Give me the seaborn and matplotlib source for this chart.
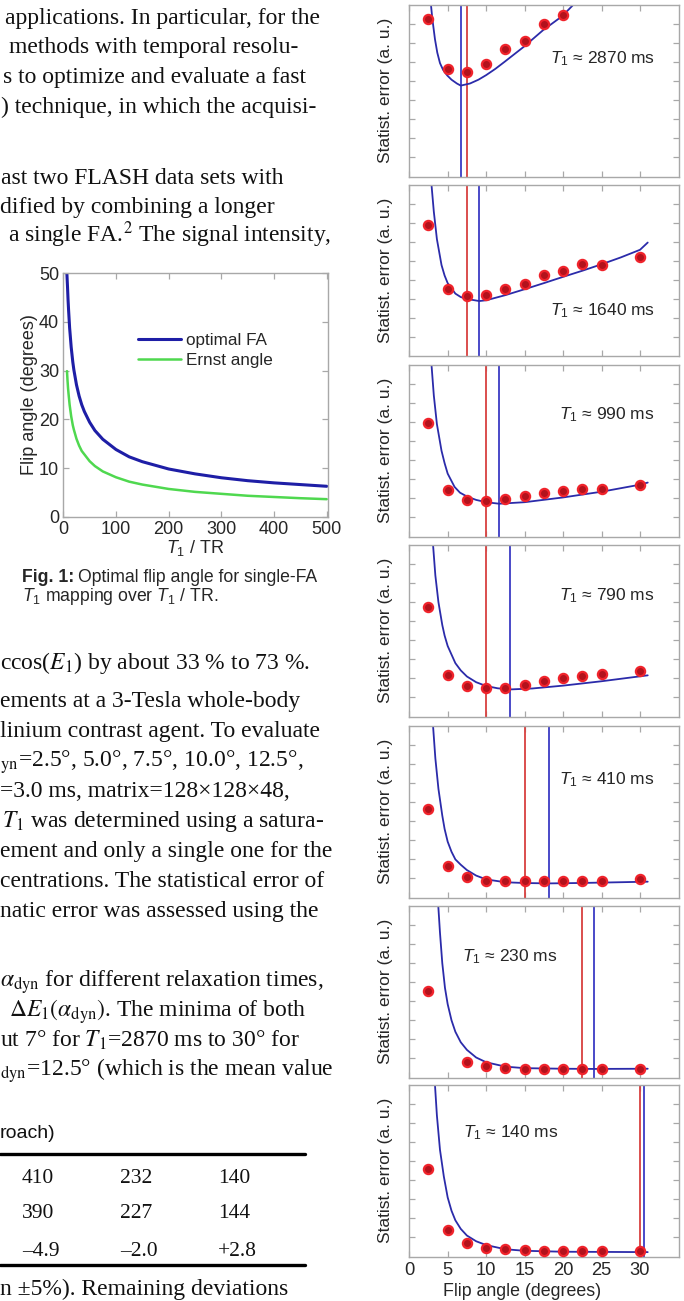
import numpy as np
import pandas as pd
import matplotlib
matplotlib.use("Agg")
import matplotlib.pyplot as plt
from matplotlib.lines import Line2D
import seaborn as sns

# ---------------- data ----------------
# Fig. 1 inset: flip angle vs T1/TR
t1_tr_opt = [6.5, 7, 8, 9, 10, 12, 15, 18, 20, 25, 30, 35, 40, 50, 60, 75, 100, 125, 150, 200, 250, 300, 350, 400, 450, 500]
fa_opt = [50.5, 49.5, 47.2, 44.6, 42.5, 38.8, 34.8, 31.8, 30.2, 27.1, 24.8, 23.0, 21.6, 19.4, 17.7, 15.9, 13.8, 12.3, 11.3, 9.8, 8.8, 8.0, 7.4, 6.95, 6.6, 6.25]
t1_tr_ernst = [7, 8, 9, 10, 12, 15, 18, 20, 25, 30, 35, 40, 50, 60, 75, 100, 125, 150, 200, 250, 300, 350, 400, 450, 500]
fa_ernst = [29.9, 28.0, 26.4, 25.2, 23.0, 20.6, 18.8, 17.9, 16.0, 14.6, 13.5, 12.8, 11.4, 10.4, 9.3, 8.1, 7.2, 6.6, 5.7, 5.1, 4.7, 4.3, 4.05, 3.8, 3.6]

# right column: statistical error vs flip angle
flip_dyn = [2.5, 5, 7.5, 10, 12.5, 15, 17.5, 20, 22.5, 25, 30]
t1_labels = ["2870", "1640", "990", "790", "410", "230", "140"]
err_2870 = [8.26, 5.65, 5.46, 5.93, 6.67, 7.12, 7.98, 8.45, None, None, None]
err_1640 = [6.9, 3.53, 3.18, 3.21, 3.53, 3.79, 4.26, 4.47, 4.86, 4.80, 5.24]
err_990 = [5.95, 2.44, 1.91, 1.86, 1.98, 2.12, 2.26, 2.37, 2.51, 2.51, 2.68]
err_790 = [5.75, 2.16, 1.60, 1.51, 1.51, 1.63, 1.84, 2.02, 2.10, 2.25, 2.39]
err_410 = [4.63, 1.65, 1.07, 0.88, 0.86, 0.84, 0.84, 0.86, 0.86, 0.89, 0.96]
err_230 = [4.54, None, 0.81, 0.60, 0.51, 0.46, 0.46, 0.46, 0.46, 0.46, 0.46]
err_140 = [4.61, 1.37, 0.70, 0.47, 0.37, 0.32, 0.30, 0.30, 0.28, 0.28, 0.28]
measured = [err_2870, err_1640, err_990, err_790, err_410, err_230, err_140]

# model curves
fit_x_2870 = [2.6, 2.83, 3.0, 3.35, 3.65, 4.0, 4.4, 4.95, 5.5, 6.2, 6.7, 7.9, 9.0, 10.0, 11.2, 12.4, 14.9, 17.4, 19.9, 21.3, 22.0]
fit_y_2870 = [9.9, 9.0, 8.3, 7.2, 6.5, 5.95, 5.6, 5.3, 5.08, 4.88, 4.77, 4.88, 5.08, 5.32, 5.65, 6.02, 6.81, 7.68, 8.42, 9.0, 9.3]
fit_x_1640 = [2.7, 2.9, 3.2, 3.6, 4.2, 4.6, 5.0, 6.0, 6.7, 7.5, 9.1, 10, 12.5, 15, 17.5, 20, 22.5, 25, 27.5, 30, 31]
fit_y_1640 = [10, 9.0, 7.6, 6.16, 4.8, 4.25, 3.85, 3.3, 3.12, 3.02, 2.91, 2.95, 3.22, 3.53, 3.85, 4.18, 4.5, 4.84, 5.2, 5.6, 5.98]
fit_x_990 = [2.75, 2.9, 3.2, 3.6, 4.2, 4.6, 5.0, 5.9, 6.6, 7.5, 8.7, 10, 11.7, 15, 20, 25, 30, 31]
fit_y_990 = [10, 9.0, 7.4, 5.9, 4.5, 3.85, 3.3, 2.6, 2.3, 2.1, 1.92, 1.8, 1.72, 1.8, 2.05, 2.35, 2.72, 2.83]
fit_x_790 = [2.95, 3.1, 3.4, 3.8, 4.3, 4.6, 5.0, 6.0, 6.7, 7.5, 8.7, 10, 11.5, 13.1, 16, 20, 25, 31]
fit_y_790 = [10, 9.0, 7.4, 6.0, 4.8, 4.25, 3.7, 2.8, 2.42, 2.1, 1.8, 1.6, 1.48, 1.42, 1.47, 1.62, 1.85, 2.16]
fit_x_410 = [2.95, 3.1, 3.4, 3.8, 4.3, 4.6, 5.0, 5.5, 6.0, 6.7, 7.5, 8.7, 10, 12.5, 15, 18.2, 22, 26, 31]
fit_y_410 = [10, 9.0, 7.3, 5.7, 4.3, 3.6, 2.93, 2.4, 2.0, 1.72, 1.44, 1.15, 0.95, 0.8, 0.76, 0.74, 0.76, 0.79, 0.83]
fit_x_230 = [3.65, 3.78, 4.0, 4.3, 4.65, 5.0, 5.5, 6.0, 6.7, 7.5, 8.7, 10, 12.5, 15, 20, 24, 31]
fit_y_230 = [10, 9.0, 7.6, 6.0, 4.7, 3.85, 3.0, 2.4, 1.85, 1.45, 1.05, 0.8, 0.57, 0.49, 0.46, 0.45, 0.46]
fit_x_140 = [3.2, 3.35, 3.6, 4.0, 4.5, 5.0, 5.5, 6.0, 6.7, 7.5, 8.7, 10, 12.5, 15, 20, 31]
fit_y_140 = [10, 9.0, 7.4, 5.6, 4.2, 3.1, 2.4, 1.9, 1.45, 1.1, 0.8, 0.6, 0.38, 0.3, 0.25, 0.23]
fits_x = [fit_x_2870, fit_x_1640, fit_x_990, fit_x_790, fit_x_410, fit_x_230, fit_x_140]
fits_y = [fit_y_2870, fit_y_1640, fit_y_990, fit_y_790, fit_y_410, fit_y_230, fit_y_140]

opt_measured = [7.5, 7.5, 10, 10, 15, 22.5, 30]   # red lines
opt_model = [6.7, 9.1, 11.7, 13.1, 18.2, 24.0, 30.5]  # blue lines

table_row1 = ["410", "232", "140"]
table_row2 = ["390", "227", "144"]
table_row3 = ["\u20134.9", "\u20132.0", "+2.8"]

# ---------------- style ----------------
sns.set_theme(style="ticks")
plt.rcParams["font.family"] = ["Liberation Sans", "DejaVu Sans"]
plt.rcParams["mathtext.fontset"] = "custom"
plt.rcParams["mathtext.rm"] = "Liberation Sans"
plt.rcParams["mathtext.it"] = "Liberation Sans:italic"
plt.rcParams["mathtext.bf"] = "Liberation Sans:bold"

W, H = 684, 1301
fig = plt.figure(figsize=(W / 100, H / 100), dpi=100)
fig.patch.set_facecolor("white")


def rect(x0, y0, x1, y1):
    return [x0 / W, 1 - y1 / H, (x1 - x0) / W, (y1 - y0) / H]


SPINE = "#a8a8a8"
TXT = "#262626"


def style_axes(ax):
    for s in ax.spines.values():
        s.set_color(SPINE)
        s.set_linewidth(1.0)
    ax.tick_params(direction="in", top=True, right=True, color=SPINE,
                   length=4, width=0.9, labelcolor=TXT)


SERIF = ["Liberation Serif", "DejaVu Serif"]


def body(x, y, s, size=17):
    return fig.text(x / W, 1 - (y + 7) / H, s, fontsize=size, family=SERIF,
                    va="baseline", ha="left", color="#111111", math_fontfamily="stix")


# ---------------- left column text ----------------
upper = [
    ("applications. In particular, for the", 5, 16.7),
    ("methods with temporal resolu-", 9, 45.5),
    ("s to optimize and evaluate a fast", 3, 76.5),
    (") technique, in which the acquisi-", 1, 106.5),
    ("ast two FLASH data sets with", 1, 176.5),
    ("dified by combining a longer", 0, 205.5),
    ("a single FA.$^{2}$ The signal intensity,", 8, 235.5),
]
for s, x, y in upper:
    body(x, y, s)

lower = [
    ("ccos($E_1$) by about 33 % to 73 %.", 0, 661.7),
    ("ements at a 3-Tesla whole-body", 0, 700),
    ("linium contrast agent. To evaluate", 0, 730),
    ("$_{\\mathrm{yn}}$=2.5°, 5.0°, 7.5°, 10.0°, 12.5°,", 0, 760),
    ("=3.0 ms, matrix=128×128×48,", 0, 790),
    ("$T_1$ was determined using a satura-", 2, 820),
    ("ement and only a single one for the", 0, 850),
    ("centrations. The statistical error of", 0, 880),
    ("natic error was assessed using the", 0, 910),
    ("$\\alpha_{\\mathrm{dyn}}$ for different relaxation times,", 0, 980),
    ("$\\Delta E_1(\\alpha_{\\mathrm{dyn}})$. The minima of both", 9, 1010),
    ("ut 7° for $T_1$=2870 ms to 30° for", 0, 1040),
    ("$_{\\mathrm{dyn}}$=12.5° (which is the mean value", 0, 1068.3),
    ("n ±5%). Remaining deviations", 0, 1288.3),
]
for s, x, y in lower:
    body(x, y, s)

# table
fig.text(0, 1 - (1131.7 + 6) / H, "roach)", fontsize=14, color="#111111", va="baseline")
fig.add_artist(Line2D([0, 305 / W], [1 - 1153.5 / H] * 2, color="black", lw=2.4,
                      transform=fig.transFigure))
fig.add_artist(Line2D([0, 305 / W], [1 - 1265 / H] * 2, color="black", lw=2.4,
                      transform=fig.transFigure))
cols_x = [22, 120, 218]
for row, y in zip([table_row1, table_row2, table_row3], [1176.7, 1211.7, 1250]):
    for v, x in zip(row, cols_x):
        body(x, y - 1, v, size=15.5)

# ---------------- Fig. 1 inset ----------------
ax0 = fig.add_axes(rect(63.3, 273.3, 328.3, 516.7))
df_opt = pd.DataFrame({"x": t1_tr_opt, "y": fa_opt})
df_ern = pd.DataFrame({"x": t1_tr_ernst, "y": fa_ernst})
sns.lineplot(data=df_opt, x="x", y="y", ax=ax0, color="#1e1ea6", lw=2.2,
             label="optimal FA", sort=False, estimator=None)
sns.lineplot(data=df_ern, x="x", y="y", ax=ax0, color="#4fd84f", lw=1.8,
             label="Ernst angle", sort=False, estimator=None)
ax0.set_xlim(0, 503)
ax0.set_ylim(0, 50)
ax0.set_xticks([0, 100, 200, 300, 400, 500])
ax0.set_yticks([0, 10, 20, 30, 40, 50])
style_axes(ax0)
ax0.tick_params(labelsize=13, pad=3)
ax0.set_xlabel("$T_1$ / TR", fontsize=13, color=TXT, labelpad=0)
ax0.set_ylabel("Flip angle (degrees)", fontsize=13, color=TXT, labelpad=1)
ax0.legend(loc="upper left", bbox_to_anchor=(138 / W, 1 - 333 / H),
           bbox_transform=fig.transFigure, frameon=False, fontsize=12.3,
           handlelength=2.5, handletextpad=0.3, labelspacing=0.3, borderpad=0,
           borderaxespad=0)
for t in ax0.get_legend().get_texts():
    t.set_color(TXT)

cap_fs = 12.7
bold = fig.text(21.7 / W, 1 - (577 + 5) / H, "Fig. 1:", fontsize=cap_fs, color=TXT,
                va="baseline", weight="bold")
renderer = fig.canvas.get_renderer()
bb = bold.get_window_extent(renderer=renderer)
fig.text((bb.x1 + 4) / W, 1 - (577 + 5) / H, "Optimal flip angle for single-FA",
         fontsize=cap_fs, color=TXT, va="baseline")
fig.text(21.7 / W, 1 - (596 + 5) / H, r"$T_1$ mapping over $T_1$ / TR.",
         fontsize=cap_fs, color=TXT, va="baseline")

# ---------------- right column panels ----------------
tops = [5, 185, 365, 545, 726, 906, 1085]
label_pos = [(31.9, 6.17, "right"), (31.9, 2.38, "right"), (31.9, 6.42, "right"),
             (31.9, 6.33, "right"), (31.9, 6.17, "right"), (6.8, 6.35, "left"),
             (7.0, 6.5, "left")]
for i in range(7):
    top = tops[i]
    ax = fig.add_axes(rect(409.2, top, 678.5, top + 171.5))
    dfm = pd.DataFrame({"x": flip_dyn, "y": [np.nan if v is None else v for v in measured[i]]}).dropna()
    dff = pd.DataFrame({"x": fits_x[i], "y": fits_y[i]})
    ax.axvline(opt_measured[i], color="#d8403f", lw=1.3, zorder=1)
    ax.axvline(opt_model[i], color="#3b3bc4", lw=1.3, zorder=1)
    sns.lineplot(data=dff, x="x", y="y", ax=ax, color="#2b2baa", lw=1.3,
                 sort=False, estimator=None, zorder=2)
    sns.scatterplot(data=dfm, x="x", y="y", ax=ax, s=44, color="#b3121c",
                    edgecolor="#f0232b", linewidth=1.6, zorder=3)
    ax.set_xlim(0, 35)
    ax.set_ylim(0, 9)
    ax.set_xticks([0, 5, 10, 15, 20, 25, 30])
    ax.set_yticks(range(1, 9))
    style_axes(ax)
    ax.set_yticklabels([])
    ax.set_ylabel("Statist. error (a. u.)", fontsize=12.5, color=TXT, labelpad=8)
    lx, ly, ha = label_pos[i]
    ax.text(lx, ly, "$T_1$ \u2248 %s ms" % t1_labels[i], fontsize=12.5, color=TXT,
            ha=ha, va="center")
    if i < 6:
        ax.set_xticklabels([])
        ax.set_xlabel("")
    else:
        ax.tick_params(labelsize=13.2, pad=4)
        ax.set_xlabel("Flip angle (degrees)", fontsize=12.8, color=TXT, labelpad=0)
        ax.xaxis.set_label_coords((522.5 - 409.2) / 269.3, -0.155)

fig.savefig("out.png", dpi=100, facecolor="white")
